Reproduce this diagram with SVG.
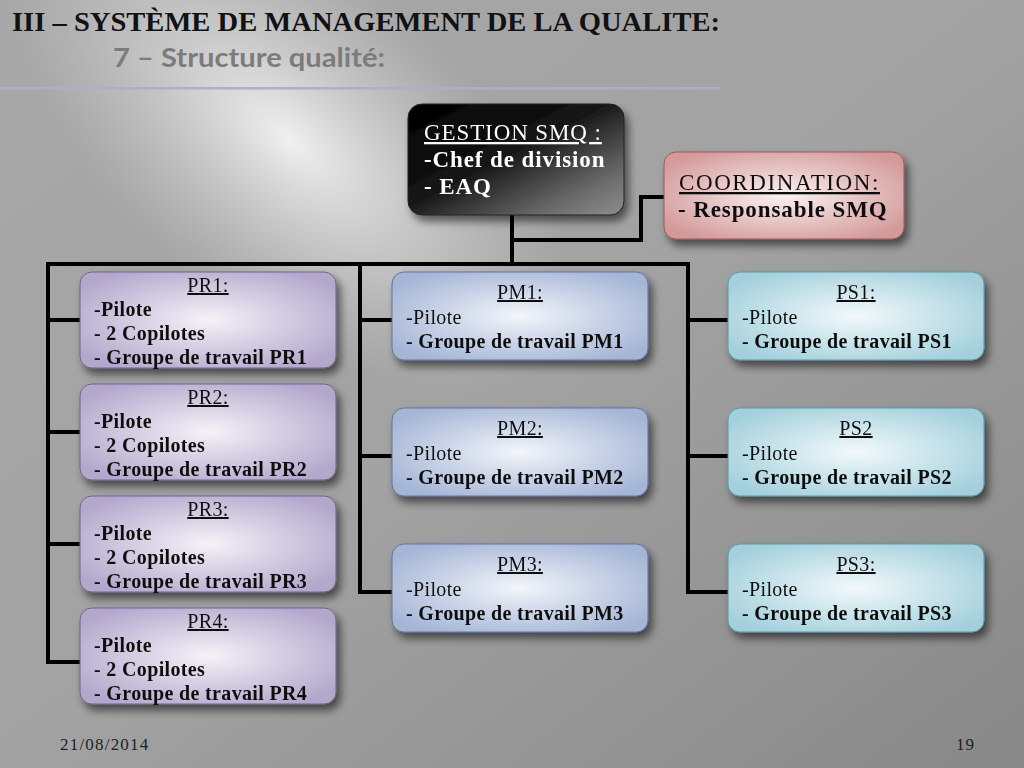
<svg xmlns="http://www.w3.org/2000/svg" width="1024" height="768" viewBox="0 0 1024 768">
<defs>
<linearGradient id="bg" x1="0" y1="0" x2="1" y2="1">
<stop offset="0" stop-color="#a8a8a8"/>
<stop offset="0.5" stop-color="#a2a2a2"/>
<stop offset="1" stop-color="#888888"/>
</linearGradient>
<radialGradient id="hl" cx="290" cy="140" r="340" gradientUnits="userSpaceOnUse" gradientTransform="translate(290 140) rotate(40) scale(1 0.5) translate(-290 -140)">
<stop offset="0" stop-color="#f4f4f4" stop-opacity="0.95"/>
<stop offset="0.5" stop-color="#e0e0e0" stop-opacity="0.5"/>
<stop offset="1" stop-color="#d0d0d0" stop-opacity="0"/>
</radialGradient>
<linearGradient id="gBlack" x1="0" y1="0" x2="1" y2="1">
<stop offset="0" stop-color="#000"/>
<stop offset="0.45" stop-color="#151515"/>
<stop offset="0.8" stop-color="#6a6a6a"/>
<stop offset="1" stop-color="#8e8e8e"/>
</linearGradient>
<radialGradient id="gPink" cx="0.5" cy="0.5" r="0.6">
<stop offset="0" stop-color="#fbf2f2"/>
<stop offset="1" stop-color="#d49a9a"/>
</radialGradient>
<radialGradient id="gPurple" cx="0.5" cy="0.5" r="0.6">
<stop offset="0" stop-color="#f4f2f8"/>
<stop offset="1" stop-color="#b3a8cc"/>
</radialGradient>
<radialGradient id="gBlue" cx="0.5" cy="0.5" r="0.6">
<stop offset="0" stop-color="#f2f5fa"/>
<stop offset="1" stop-color="#a5b5d6"/>
</radialGradient>
<radialGradient id="gCyan" cx="0.5" cy="0.5" r="0.6">
<stop offset="0" stop-color="#f2f9fb"/>
<stop offset="1" stop-color="#a3d0dc"/>
</radialGradient>
<filter id="sh" x="-10%" y="-10%" width="130%" height="140%">
<feGaussianBlur in="SourceAlpha" stdDeviation="4"/>
<feOffset dx="4" dy="6" result="b"/>
<feComponentTransfer><feFuncA type="linear" slope="0.55"/></feComponentTransfer>
<feMerge><feMergeNode/><feMergeNode in="SourceGraphic"/></feMerge>
</filter>
</defs>
<style>
.t{font-family:"Liberation Serif","DejaVu Serif",serif;font-size:20px;letter-spacing:0.35px;fill:#111}
.b{font-weight:bold}
.h{text-decoration:underline;text-anchor:middle}
.w{fill:#fff;font-size:23px;letter-spacing:0.9px}
.k{font-size:23px;letter-spacing:0.9px}
.c{stroke:#000;stroke-width:4;fill:none;stroke-linejoin:miter;stroke-linecap:square}
.pr{fill:url(#gPurple);stroke:#6e6390;stroke-width:1}
.pm{fill:url(#gBlue);stroke:#5f75a0;stroke-width:1}
.ps{fill:url(#gCyan);stroke:#5b97a8;stroke-width:1}
</style>
<rect width="1024" height="768" fill="url(#bg)"/>
<rect width="1024" height="768" fill="url(#hl)"/>

<g id="title">
<text x="12" y="31" class="t b" style="font-size:27px;letter-spacing:0" textLength="708" lengthAdjust="spacingAndGlyphs">III – SYSTÈME DE MANAGEMENT DE LA QUALITE:</text>
<text x="113" y="67" style="font-family:Lato,'Open Sans',sans-serif;font-weight:bold;font-size:26px;fill:#7c7c7c" textLength="272" lengthAdjust="spacingAndGlyphs">7 – Structure qualité:</text>
<rect x="0" y="87" width="720" height="2.5" fill="#a9b3c0"/>
</g>

<g id="connectors">
<path class="c" d="M512 215 V264"/>
<path class="c" d="M512 240 H641 V197 H664"/>
<path class="c" d="M48 264 H688"/>
<path class="c" d="M48 264 V662 H80"/>
<path class="c" d="M48 320 H80 M48 432 H80 M48 544 H80"/>
<path class="c" d="M360 264 V592 H392 M360 320 H392 M360 456 H392"/>
<path class="c" d="M688 264 V592 H728 M688 320 H728 M688 456 H728"/>
</g>

<g id="gestion" filter="url(#sh)">
<rect x="408" y="104" width="216" height="111" rx="14" fill="url(#gBlack)" stroke="#222"/>
<text x="424" y="140" class="t w" style="text-decoration:underline">GESTION SMQ :</text>
<text x="424" y="167" class="t w b">-Chef de division</text>
<text x="424" y="194" class="t w b">- EAQ</text>
</g>

<g id="coordination" filter="url(#sh)">
<rect x="664" y="152" width="240" height="87" rx="12" fill="url(#gPink)" stroke="#9a5a5a"/>
<text x="679" y="190" class="t k" style="text-decoration:underline;letter-spacing:1.6px">COORDINATION:</text>
<text x="678" y="217" class="t k b">- Responsable SMQ</text>
</g>

<g id="pr1" filter="url(#sh)">
<rect x="80" y="272" width="256" height="96" rx="12" class="pr"/>
<text x="208" y="292" class="t h">PR1:</text>
<text x="94" y="316" class="t b">-Pilote</text>
<text x="94" y="340" class="t b">- 2 Copilotes</text>
<text x="94" y="364" class="t b">- Groupe de travail PR1</text>
</g>
<g id="pr2" filter="url(#sh)">
<rect x="80" y="384" width="256" height="96" rx="12" class="pr"/>
<text x="208" y="404" class="t h">PR2:</text>
<text x="94" y="428" class="t b">-Pilote</text>
<text x="94" y="452" class="t b">- 2 Copilotes</text>
<text x="94" y="476" class="t b">- Groupe de travail PR2</text>
</g>
<g id="pr3" filter="url(#sh)">
<rect x="80" y="496" width="256" height="96" rx="12" class="pr"/>
<text x="208" y="516" class="t h">PR3:</text>
<text x="94" y="540" class="t b">-Pilote</text>
<text x="94" y="564" class="t b">- 2 Copilotes</text>
<text x="94" y="588" class="t b">- Groupe de travail PR3</text>
</g>
<g id="pr4" filter="url(#sh)">
<rect x="80" y="608" width="256" height="96" rx="12" class="pr"/>
<text x="208" y="628" class="t h">PR4:</text>
<text x="94" y="652" class="t b">-Pilote</text>
<text x="94" y="676" class="t b">- 2 Copilotes</text>
<text x="94" y="700" class="t b">- Groupe de travail PR4</text>
</g>

<g id="pm1" filter="url(#sh)">
<rect x="392" y="272" width="256" height="88" rx="12" class="pm"/>
<text x="520" y="299" class="t h">PM1:</text>
<text x="406" y="324" class="t">-Pilote</text>
<text x="406" y="348" class="t b">- Groupe de travail PM1</text>
</g>
<g id="pm2" filter="url(#sh)">
<rect x="392" y="408" width="256" height="88" rx="12" class="pm"/>
<text x="520" y="435" class="t h">PM2:</text>
<text x="406" y="460" class="t">-Pilote</text>
<text x="406" y="484" class="t b">- Groupe de travail PM2</text>
</g>
<g id="pm3" filter="url(#sh)">
<rect x="392" y="544" width="256" height="88" rx="12" class="pm"/>
<text x="520" y="571" class="t h">PM3:</text>
<text x="406" y="596" class="t">-Pilote</text>
<text x="406" y="620" class="t b">- Groupe de travail PM3</text>
</g>

<g id="ps1" filter="url(#sh)">
<rect x="728" y="272" width="256" height="88" rx="12" class="ps"/>
<text x="856" y="299" class="t h">PS1:</text>
<text x="742" y="324" class="t">-Pilote</text>
<text x="742" y="348" class="t b">- Groupe de travail PS1</text>
</g>
<g id="ps2" filter="url(#sh)">
<rect x="728" y="408" width="256" height="88" rx="12" class="ps"/>
<text x="856" y="435" class="t h">PS2</text>
<text x="742" y="460" class="t">-Pilote</text>
<text x="742" y="484" class="t b">- Groupe de travail PS2</text>
</g>
<g id="ps3" filter="url(#sh)">
<rect x="728" y="544" width="256" height="88" rx="12" class="ps"/>
<text x="856" y="571" class="t h">PS3:</text>
<text x="742" y="596" class="t">-Pilote</text>
<text x="742" y="620" class="t b">- Groupe de travail PS3</text>
</g>

<g id="footer">
<text x="60" y="750" class="t" style="font-size:17px;letter-spacing:1.2px;fill:#222">21/08/2014</text>
<text x="956" y="750" class="t" style="font-size:17px;letter-spacing:1px;fill:#222">19</text>
</g>
</svg>
